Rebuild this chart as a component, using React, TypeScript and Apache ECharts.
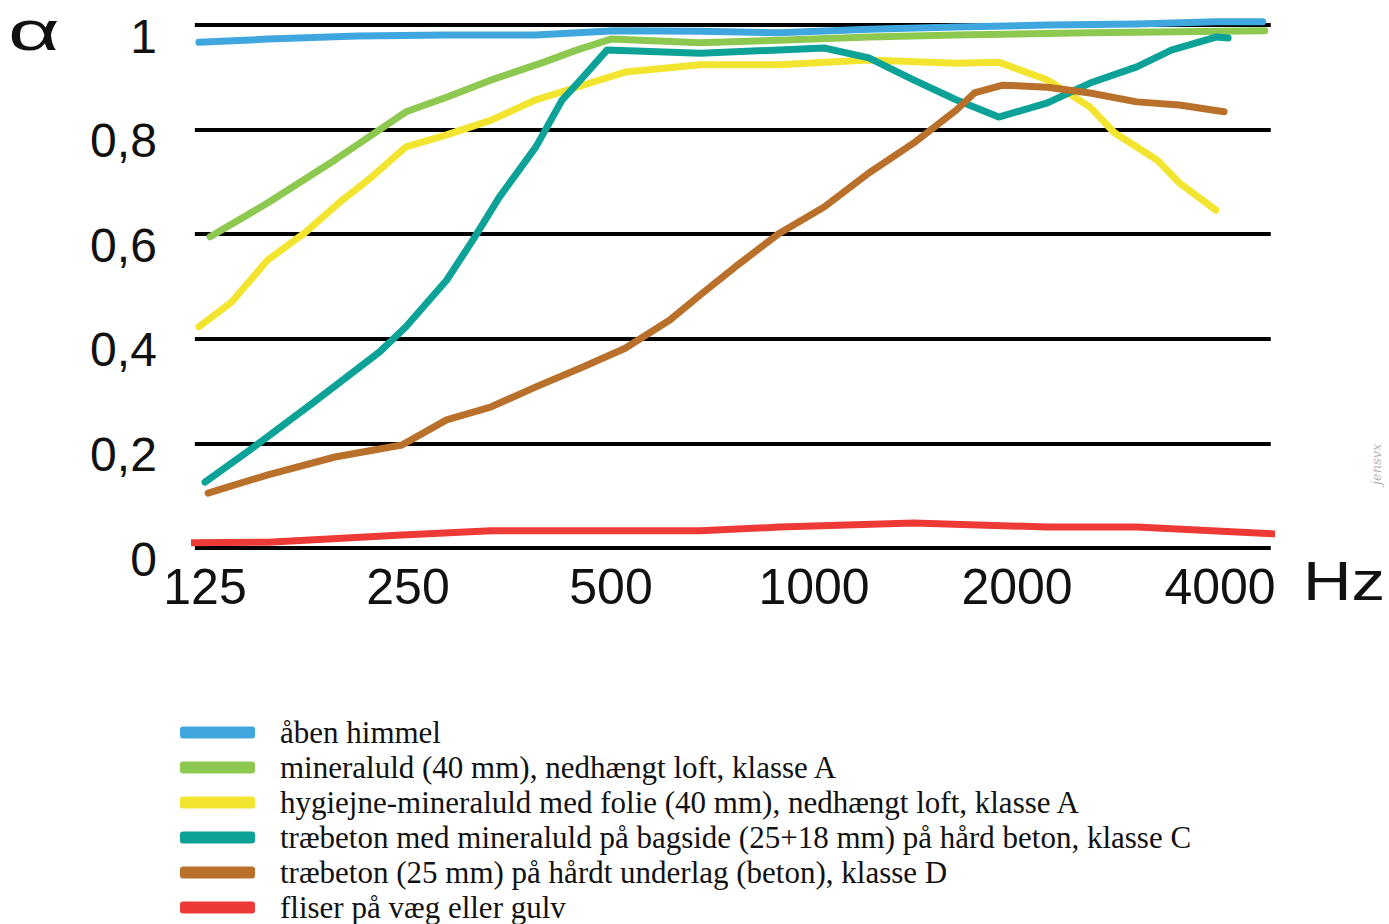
import React, { useEffect, useRef } from "react";
import * as echarts from "echarts";

// x positions are octave-band positions: 0 = 125 Hz, 1 = 250 Hz, ... 5 = 4000 Hz
const bandLabels = ["125", "250", "500", "1000", "2000", "4000"];
const alphaTicks = [0, 0.2, 0.4, 0.6, 0.8, 1];

const seriesNames = [
  "åben himmel",
  "mineraluld (40 mm), nedhængt loft, klasse A",
  "hygiejne-mineraluld med folie (40 mm), nedhængt loft, klasse A",
  "træbeton med mineraluld på bagside (25+18 mm) på hård beton, klasse C",
  "træbeton (25 mm) på hårdt underlag (beton), klasse D",
  "fliser på væg eller gulv",
];
const seriesColors = ["#40a7de", "#8dc850", "#f3e52f", "#0ca298", "#b8702b", "#ee3a37"];

const openSky = [
  [-0.03, 0.967], [0.31, 0.973], [0.75, 0.979], [1.19, 0.981], [1.63, 0.981],
  [2.02, 0.989], [2.44, 0.988], [2.83, 0.985], [3.27, 0.992], [3.7, 0.996],
  [4.15, 1.0], [4.59, 1.002], [4.98, 1.006], [5.21, 1.006],
];
const mineralWool = [
  [0.025, 0.595], [0.31, 0.66], [0.64, 0.742], [0.857, 0.799], [0.99, 0.834],
  [1.19, 0.862], [1.41, 0.895], [1.67, 0.929], [1.83, 0.952], [2.0, 0.973],
  [2.44, 0.966], [2.83, 0.971], [3.27, 0.977], [3.7, 0.981], [4.36, 0.985],
  [4.8, 0.987], [5.22, 0.989],
];
const hygieneWool = [
  [-0.03, 0.423], [0.13, 0.47], [0.31, 0.551], [0.49, 0.602], [0.66, 0.66],
  [0.82, 0.709], [0.99, 0.767], [1.19, 0.79], [1.41, 0.818], [1.63, 0.857],
  [1.83, 0.881], [2.07, 0.91], [2.44, 0.924], [2.83, 0.924], [3.27, 0.933],
  [3.7, 0.927], [3.91, 0.929], [4.15, 0.895], [4.36, 0.843], [4.48, 0.794],
  [4.69, 0.742], [4.8, 0.698], [4.98, 0.646],
];
const woodWoolWithMineral = [
  [0.0, 0.126], [0.22, 0.187], [0.53, 0.277], [0.86, 0.375], [0.99, 0.423],
  [1.19, 0.512], [1.32, 0.589], [1.45, 0.671], [1.63, 0.767], [1.76, 0.857],
  [1.85, 0.895], [1.98, 0.952], [2.44, 0.946], [3.05, 0.956], [3.27, 0.937],
  [3.49, 0.895], [3.7, 0.857], [3.91, 0.824], [4.15, 0.851], [4.36, 0.889],
  [4.59, 0.92], [4.76, 0.952], [4.98, 0.977], [5.04, 0.975],
];
const woodWool = [
  [0.015, 0.105], [0.31, 0.14], [0.64, 0.174], [0.97, 0.197], [1.19, 0.245],
  [1.41, 0.27], [1.63, 0.308], [1.85, 0.344], [2.07, 0.382], [2.29, 0.436],
  [2.44, 0.484], [2.61, 0.537], [2.83, 0.602], [3.05, 0.652], [3.27, 0.717],
  [3.49, 0.774], [3.7, 0.837], [3.79, 0.87], [3.93, 0.885], [4.15, 0.881],
  [4.36, 0.87], [4.59, 0.853], [4.8, 0.847], [5.02, 0.834],
];
const tiles = [
  [-0.14, 0.01], [0.31, 0.011], [0.97, 0.025], [1.41, 0.033], [2.44, 0.033],
  [2.83, 0.04], [3.49, 0.048], [4.15, 0.04], [4.59, 0.04], [5.27, 0.027],
];

const seriesData = [openSky, mineralWool, hygieneWool, woodWoolWithMineral, woodWool, tiles];

const handFont = "'Liberation Sans', Arial, sans-serif";

export default function App() {
  const ref = useRef<HTMLDivElement>(null);

  useEffect(() => {
    if (!ref.current) return;
    const chart = echarts.init(ref.current, null, { renderer: "svg" });
    chart.setOption({
      animation: false,
      backgroundColor: "#ffffff",
      grid: {
        left: 194.85,
        right: 118.25,
        top: 25,
        bottom: 376,
        containLabel: false,
        outerBoundsMode: "none",
      },
      xAxis: {
        type: "value",
        min: -0.05,
        max: 5.25,
        axisLine: { show: false },
        axisTick: { show: false },
        splitLine: { show: false },
        axisLabel: {
          customValues: [0, 1, 2, 3, 4, 5],
          formatter: (v: number) => bandLabels[Math.round(v)] ?? "",
          fontFamily: handFont,
          fontSize: 50,
          color: "#111",
          margin: 14,
        },
      },
      yAxis: {
        type: "value",
        min: 0,
        max: 1,
        interval: 0.2,
        axisLine: { show: false },
        axisTick: { show: false },
        splitLine: { show: true, lineStyle: { color: "#000", width: 4 } },
        axisLabel: {
          formatter: (v: number) => {
            const t = alphaTicks.find((a) => Math.abs(a - v) < 1e-6);
            if (t === undefined) return "";
            let s = t.toFixed(1).replace(".", ",");
            if (t === 0) s = "0";
            if (t === 1) s = "1";
            return "\n" + s;
          },
          fontFamily: handFont,
          fontSize: 48,
          lineHeight: 22,
          color: "#111",
          margin: 38,
        },
      },
      legend: {
        orient: "vertical",
        left: 180,
        top: 717,
        height: 260,
        padding: 0,
        icon: "roundRect",
        itemWidth: 75,
        itemHeight: 12,
        itemGap: 4,
        data: seriesNames,
        textStyle: {
          fontFamily: "'Liberation Serif', 'DejaVu Serif', serif",
          fontSize: 31,
          color: "#111",
          padding: [0, 0, 0, 20],
        },
      },
      graphic: [
        {
          type: "text",
          x: 8,
          y: 3,
          scaleX: 1.6,
          style: { text: "α", font: `56px ${handFont}`, fill: "#111" },
        },
        {
          type: "text",
          x: 1303,
          y: 553,
          scaleX: 1.2,
          style: { text: "Hz", font: `56px ${handFont}`, fill: "#111" },
        },
        {
          type: "text",
          x: 1370,
          y: 485,
          rotation: Math.PI / 2,
          style: { text: "jensvx", font: "italic 13px 'DejaVu Serif', serif", fill: "#b5b5b5" },
        },
      ],
      series: seriesNames.map((name, i) => ({
        name,
        type: "line",
        data: seriesData[i],
        symbol: "none",
        showSymbol: false,
        clip: false,
        color: seriesColors[i],
        lineStyle: { width: 7, color: seriesColors[i], cap: "round", join: "round" },
        emphasis: { disabled: true },
      })),
    });
    return () => chart.dispose();
  }, []);

  return (
    <div
      ref={ref}
      style={{ position: "fixed", left: 0, top: 0, width: 1389, height: 924 }}
    />
  );
}
